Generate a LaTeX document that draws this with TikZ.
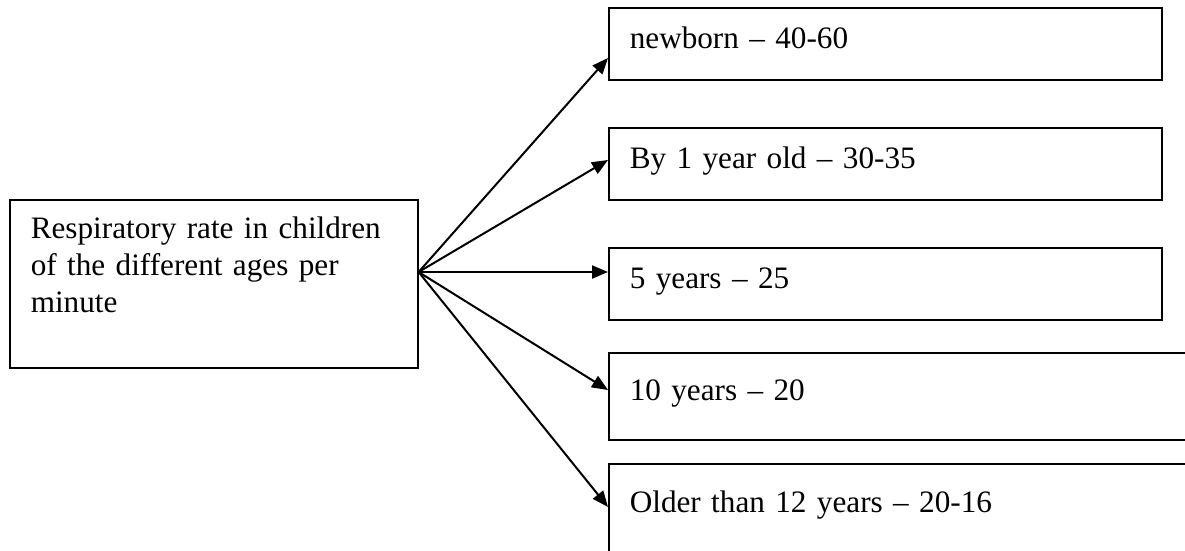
\documentclass[tikz,border=0pt]{standalone}
\usepackage{fontspec}
\setmainfont{Liberation Serif}
\usetikzlibrary{arrows.meta}

\newcommand{\agefont}{\fontsize{31.2}{37}\selectfont}
\tikzset{
  box/.style={draw, line width=1.6pt, anchor=north west, align=left,
    inner xsep=21pt, inner ysep=0pt, text height=41pt, text depth=31pt,
    text width=511pt, font=\agefont},
  arr/.style={-{Triangle[length=16pt,width=13pt]}, line width=2pt},
}

\begin{document}
\begin{tikzpicture}[x=1pt,y=-1pt]
  \useasboundingbox (0,0) rectangle (1185,550);
  % left box
  \node[box, text width=366pt, text height=39pt, text depth=129pt] (rate) at (9,199)
    {Respiratory rate in children\\of the different ages per\\minute};
  \coordinate (hub) at ([yshift=-73pt]rate.north east);
  % age boxes
  \node[box] (newborn) at (608,7) {newborn -- 40-60};
  \node[box] (oneyear) at (608,127) {By 1 year old -- 30-35};
  \node[box] (fiveyears) at (608,247) {5 years -- 25};
  \node[box, text width=600pt, text height=48pt, text depth=39pt] (tenyears) at (608,352) {10 years -- 20};
  \node[box, text width=600pt, text height=49pt, text depth=60pt] (older) at (608,463) {Older than 12 years -- 20-16};
  % arrows
  \draw[arr] (hub) -- ([yshift=-51pt]newborn.north west);
  \draw[arr] (hub) -- ([yshift=-33pt]oneyear.north west);
  \draw[arr] (hub) -- ([yshift=-25pt]fiveyears.north west);
  \draw[arr] (hub) -- ([yshift=-38pt]tenyears.north west);
  \draw[arr] (hub) -- ([yshift=-44pt]older.north west);
\end{tikzpicture}
\end{document}
